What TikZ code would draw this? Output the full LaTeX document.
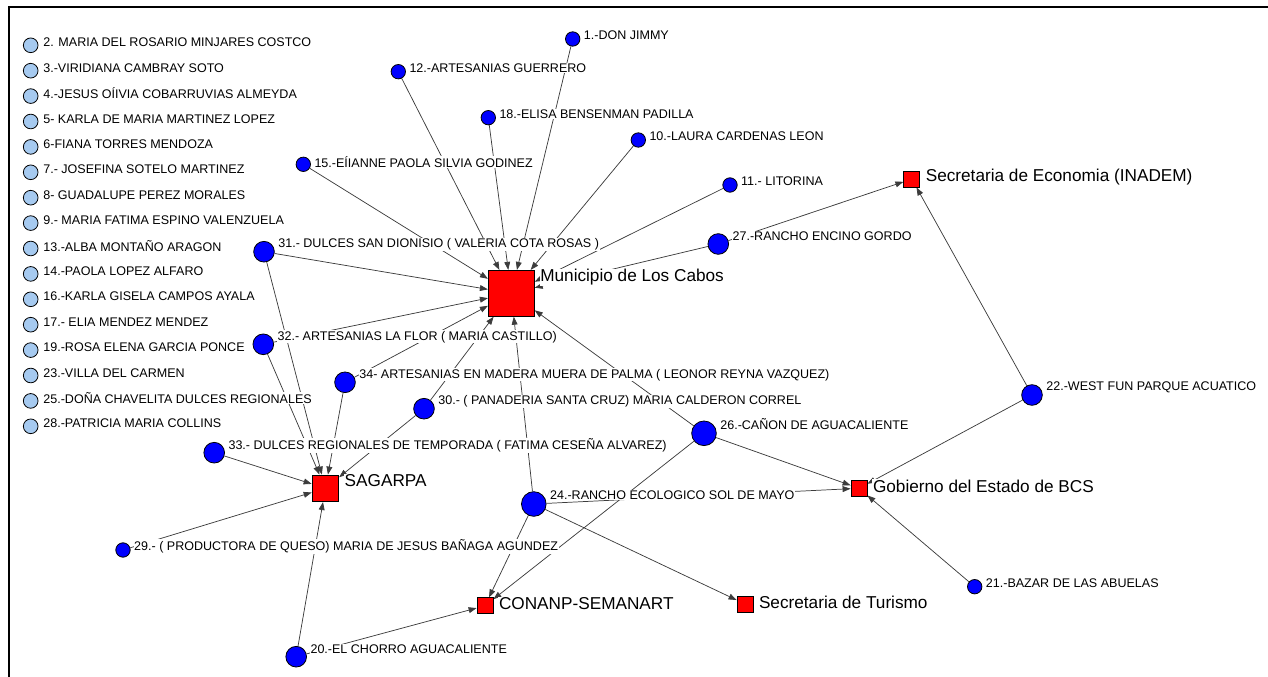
\documentclass[tikz,border=0pt]{standalone}
\usepackage{fontspec}
\setmainfont{Liberation Sans}
\usetikzlibrary{positioning,shapes,arrows.meta,backgrounds}
\definecolor{isoblue}{RGB}{166,202,240}
\definecolor{actblue}{RGB}{0,0,255}
\definecolor{orgred}{RGB}{255,0,0}
\definecolor{tiegray}{RGB}{60,60,60}

\begin{document}
\begin{tikzpicture}[x=0.75pt, y=-0.75pt,
    iso/.style={circle, draw, line width=0.6pt, fill=isoblue, minimum size=11pt, inner sep=0pt},
    actsm/.style={circle, draw, line width=0.6pt, fill=actblue, minimum size=10.8pt, inner sep=0pt},
    actmd/.style={actsm, minimum size=15.5pt},
    actlg/.style={actsm, minimum size=18.5pt},
    org/.style={rectangle, draw, line width=0.6pt, fill=orgred, minimum size=12pt, inner sep=0pt},
    lbl/.style={font=\fontsize{9.4}{11}\selectfont, fill=white, inner sep=0.5pt, anchor=west, xshift=2pt},
    liso/.style={lbl, xshift=1pt, yshift=2pt},
    lsm/.style={lbl, yshift=2.6pt},
    lmd/.style={lbl, yshift=5.6pt},
    llg/.style={lbl, yshift=6.8pt},
    lorg/.style={lbl, font=\fontsize{12.9}{15}\selectfont, xshift=1.5pt, yshift=1.6pt},
    tie/.style={-{Triangle[length=6pt,width=4.4pt]}, draw=tiegray, line width=0.55pt}]

    \useasboundingbox (0,0) rectangle (1268,677);
    \draw[line width=1.5pt] (1268,7) -- (9,7) -- (9,677);

    % isolates
    \node (i2) [iso, label={[liso]east:2. MARIA DEL ROSARIO MINJARES COSTCO}] at (30.7,45.3) {};
    \node (i3) [iso, below=7.45pt of i2, label={[liso]east:3.-VIRIDIANA CAMBRAY SOTO}] {};
    \node (i4) [iso, below=7.45pt of i3, label={[liso]east:4.-JESUS OÍIVIA COBARRUVIAS ALMEYDA}] {};
    \node (i5) [iso, below=7.45pt of i4, label={[liso]east:5- KARLA DE MARIA MARTINEZ LOPEZ}] {};
    \node (i6) [iso, below=7.45pt of i5, label={[liso]east:6-FIANA TORRES MENDOZA}] {};
    \node (i7) [iso, below=7.45pt of i6, label={[liso]east:7.- JOSEFINA SOTELO MARTINEZ}] {};
    \node (i8) [iso, below=7.45pt of i7, label={[liso]east:8- GUADALUPE PEREZ MORALES}] {};
    \node (i9) [iso, below=7.45pt of i8, label={[liso]east:9.- MARIA FATIMA ESPINO VALENZUELA}] {};
    \node (i13) [iso, below=7.45pt of i9, label={[liso]east:13.-ALBA MONTAÑO ARAGON}] {};
    \node (i14) [iso, below=7.45pt of i13, label={[liso]east:14.-PAOLA LOPEZ ALFARO}] {};
    \node (i16) [iso, below=7.45pt of i14, label={[liso]east:16.-KARLA GISELA CAMPOS AYALA}] {};
    \node (i17) [iso, below=7.45pt of i16, label={[liso]east:17.- ELIA MENDEZ MENDEZ}] {};
    \node (i19) [iso, below=7.45pt of i17, label={[liso]east:19.-ROSA ELENA GARCIA PONCE}] {};
    \node (i23) [iso, below=7.45pt of i19, label={[liso]east:23.-VILLA DEL CARMEN}] {};
    \node (i25) [iso, below=7.45pt of i23, label={[liso]east:25.-DOÑA CHAVELITA DULCES REGIONALES}] {};
    \node (i28) [iso, below=7.45pt of i25, label={[liso]east:28.-PATRICIA MARIA COLLINS}] {};

    % organisations
    \node (mun) [org, minimum size=34.5pt, label={[lorg, yshift=10.4pt]east:Municipio de Los Cabos}] at (511.3,293.3) {};
    \node (sag) [org, minimum size=20pt, label={[lorg, yshift=4.4pt]east:SAGARPA}] at (325.4,488.3) {};
    \node (econ) [org, label={[lorg]east:Secretaria de Economia (INADEM)}] at (911.8,179) {};
    \node (gob) [org, label={[lorg]east:Gobierno del Estado de BCS}] at (859,488.3) {};
    \node (conanp) [org, label={[lorg]east:CONANP-SEMANART}] at (485,605.8) {};
    \node (tur) [org, label={[lorg]east:Secretaria de Turismo}] at (745,604) {};

    % actors
    \node (a1) [actsm, label={[lsm]east:1.-DON JIMMY}] at (572.7,39) {};
    \node (a12) [actsm, label={[lsm]east:12.-ARTESANIAS GUERRERO}] at (398.3,71.7) {};
    \node (a18) [actsm, label={[lsm]east:18.-ELISA BENSENMAN PADILLA}] at (488.3,117.7) {};
    \node (a10) [actsm, label={[lsm]east:10.-LAURA CARDENAS LEON}] at (638.3,140) {};
    \node (a15) [actsm, label={[lbl, yshift=1.5pt]east:15.-EÍIANNE PAOLA SILVIA GODINEZ}] at (303.3,164.3) {};
    \node (a11) [actsm, label={[lsm]east:11.- LITORINA}] at (730,185) {};
    \node (a27) [actmd, label={[lmd]east:27.-RANCHO ENCINO GORDO}] at (718.3,244) {};
    \node (a31) [actmd, label={[lmd]east:31.- DULCES SAN DIONISIO ( VALERIA COTA ROSAS )}] at (264,251.7) {};
    \node (a32) [actmd, label={[lmd]east:32.- ARTESANIAS LA FLOR ( MARIA CASTILLO)}] at (263.3,344.3) {};
    \node (a34) [actmd, label={[lmd]east:34- ARTESANIAS EN MADERA MUERA DE PALMA ( LEONOR REYNA VAZQUEZ)}] at (345,382.3) {};
    \node (a30) [actmd, label={[lmd]east:30.- ( PANADERIA SANTA CRUZ) MARIA CALDERON CORREL}] at (424,408.7) {};
    \node (a33) [actmd, label={[lmd]east:33.- DULCES REGIONALES DE TEMPORADA ( FATIMA CESEÑA ALVAREZ)}] at (214.2,452.7) {};
    \node (a29) [actsm, label={[lsm]east:29.- ( PRODUCTORA DE QUESO) MARIA DE JESUS BAÑAGA AGUNDEZ}] at (123,550) {};
    \node (a20) [actmd, label={[lmd]east:20.-EL CHORRO AGUACALIENTE}] at (296.2,656.7) {};
    \node (a24) [actlg, label={[llg]east:24.-RANCHO ECOLOGICO SOL DE MAYO}] at (533.8,504) {};
    \node (a26) [actlg, label={[llg]east:26.-CAÑON DE AGUACALIENTE}] at (704,433.3) {};
    \node (a22) [actmd, label={[lmd]east:22.-WEST FUN PARQUE ACUATICO}] at (1032,395) {};
    \node (a21) [actsm, label={[lsm]east:21.-BAZAR DE LAS ABUELAS}] at (974.7,586.7) {};

    % ties
    \begin{scope}[on background layer]
        \draw[tie] (a1) -- (mun);
        \draw[tie] (a12) -- (mun);
        \draw[tie] (a18) -- (mun);
        \draw[tie] (a15) -- (mun);
        \draw[tie] (a10) -- (mun);
        \draw[tie] (a11) -- (mun);
        \draw[tie] (a27) -- (mun);
        \draw[tie] (a31) -- (mun);
        \draw[tie] (a32) -- (mun);
        \draw[tie] (a34) -- (mun);
        \draw[tie] (a30) -- (mun);
        \draw[tie] (a24) -- (mun);
        \draw[tie] (a26) -- (mun);
        \draw[tie] (a27) -- (econ);
        \draw[tie] (a22) -- (econ);
        \draw[tie] (a22) -- (gob);
        \draw[tie] (a26) -- (gob);
        \draw[tie] (a24) -- (gob);
        \draw[tie] (a21) -- (gob);
        \draw[tie] (a24) -- (tur);
        \draw[tie] (a24) -- (conanp);
        \draw[tie] (a26) -- (conanp);
        \draw[tie] (a20) -- (conanp);
        \draw[tie] (a20) -- (sag);
        \draw[tie] (a29) -- (sag);
        \draw[tie] (a33) -- (sag);
        \draw[tie] (a31) -- (sag);
        \draw[tie] (a32) -- (sag);
        \draw[tie] (a34) -- (sag);
        \draw[tie] (a30) -- (sag);
    \end{scope}
\end{tikzpicture}
\end{document}
